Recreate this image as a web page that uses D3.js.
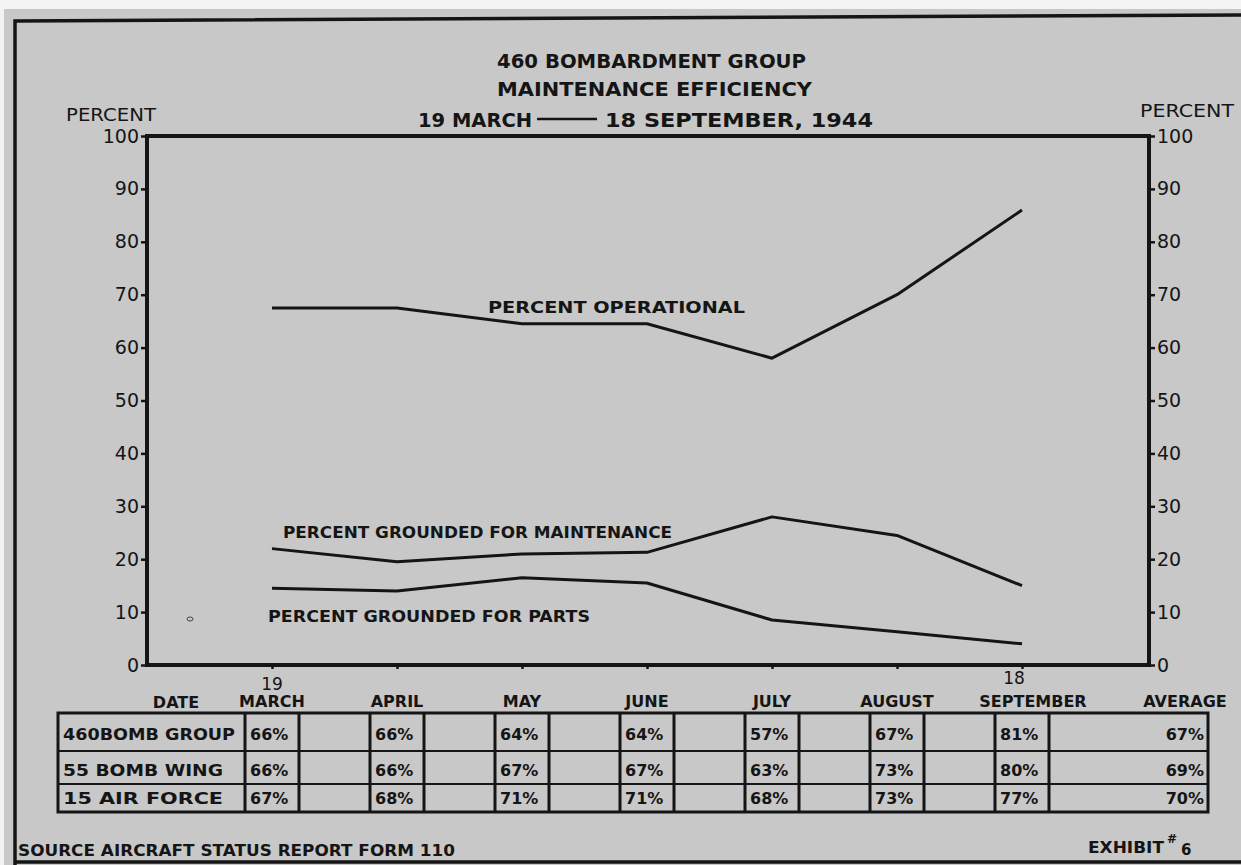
<!DOCTYPE html>
<html>
<head>
<meta charset="utf-8">
<script src="https://cdn.jsdelivr.net/npm/d3@7"></script>
<style>
  body { margin: 0; background: #f3f3f3; }
  text { font-family: "DejaVu Sans", sans-serif; fill: #151515; }
</style>
</head>
<body>
<script>
// values
const months = ["MARCH", "APRIL", "MAY", "JUNE", "JULY", "AUGUST", "SEPTEMBER"];
const operational = [67.5, 67.5, 64.5, 64.5, 58, 70, 86];
const groundedMaint = [22, 19.5, 21, 21.3, 28, 24.5, 15];
const groundedParts = [14.5, 14, 16.5, 15.5, 8.5, 6.3, 4];
const yTicks = [0, 10, 20, 30, 40, 50, 60, 70, 80, 90, 100];

const rowLabels = ["460BOMB GROUP", "55 BOMB WING", "15 AIR FORCE"];
const bombGroup460 = [66, 66, 64, 64, 57, 67, 81];
const bombWing55 = [66, 66, 67, 67, 63, 73, 80];
const airForce15 = [67, 68, 71, 71, 68, 73, 77];
const averages = [67, 69, 70];

const ink = "#151515";

const svg = d3.select("body")
  .append("svg")
  .attr("width", 1241)
  .attr("height", 865);

// photo paper
svg.append("rect")
  .attr("x", 4).attr("y", 9)
  .attr("width", 1237).attr("height", 856)
  .attr("fill", "#c8c8c8");

// outer frame
svg.append("path")
  .attr("d", "M15,865 L15,21 L1241,15")
  .attr("fill", "none").attr("stroke", ink).attr("stroke-width", 3.5);
svg.append("line")
  .attr("x1", 15).attr("x2", 1241).attr("y1", 862).attr("y2", 862)
  .attr("stroke", ink).attr("stroke-width", 3.5);

const plotL = 147, plotR = 1149, plotT = 136, plotB = 665;

const x = d3.scalePoint().domain(months).range([272, 1022]);
const y = d3.scaleLinear().domain([0, 100]).range([plotB, plotT]);

// titles
function label(txt, x0, x1, yb, size, weight) {
  return svg.append("text")
    .attr("x", x0).attr("y", yb)
    .attr("font-size", size)
    .attr("font-weight", weight || "bold")
    .attr("textLength", x1 - x0)
    .attr("lengthAdjust", "spacingAndGlyphs")
    .text(txt);
}

label("460 BOMBARDMENT GROUP", 497, 806, 68, 20);
label("MAINTENANCE EFFICIENCY", 497, 812, 96, 20);
label("19 MARCH", 418, 532, 127, 20);
svg.append("line")
  .attr("x1", 537).attr("x2", 597).attr("y1", 119).attr("y2", 119)
  .attr("stroke", ink).attr("stroke-width", 2.5);
label("18 SEPTEMBER, 1944", 605, 873, 127, 20);

label("PERCENT", 66, 156, 121, 18, "normal");
label("PERCENT", 1140, 1234, 117, 18, "normal");

// plot box
svg.append("rect")
  .attr("x", plotL).attr("y", plotT)
  .attr("width", plotR - plotL).attr("height", plotB - plotT)
  .attr("fill", "none").attr("stroke", ink).attr("stroke-width", 4);

const yLeft = svg.append("g")
  .attr("transform", "translate(" + plotL + ",0)")
  .call(d3.axisLeft(y).tickValues(yTicks).tickSize(6).tickPadding(2));
const yRight = svg.append("g")
  .attr("transform", "translate(" + plotR + ",0)")
  .call(d3.axisRight(y).tickValues(yTicks).tickSize(6).tickPadding(2));
const xAxis = svg.append("g")
  .attr("transform", "translate(0," + plotB + ")")
  .call(d3.axisBottom(x).tickSize(4).tickFormat(""));

[yLeft, yRight, xAxis].forEach(function (a) {
  a.select(".domain").remove();
  a.selectAll("line").attr("stroke", ink).attr("stroke-width", 2.5);
  a.selectAll("text")
    .attr("font-size", 19)
    .attr("font-family", "DejaVu Sans")
    .attr("fill", ink);
});

// series
const line = d3.line()
  .x(function (d, i) { return x(months[i]); })
  .y(function (d) { return y(d); });

[operational, groundedMaint, groundedParts].forEach(function (s) {
  svg.append("path")
    .datum(s)
    .attr("d", line)
    .attr("fill", "none")
    .attr("stroke", ink)
    .attr("stroke-width", 3)
    .attr("stroke-linejoin", "round");
});

label("PERCENT OPERATIONAL", 488, 745, 313, 16);
label("PERCENT GROUNDED FOR MAINTENANCE", 283, 672, 538, 16);
label("PERCENT GROUNDED FOR PARTS", 268, 590, 622, 16);

// little mark left on the sheet
svg.append("ellipse")
  .attr("cx", 190).attr("cy", 619).attr("rx", 3).attr("ry", 2)
  .attr("fill", "none").attr("stroke", "#444").attr("stroke-width", 1);

// table
const tLeft = 58, tRight = 1208, cellW = 54;
const rowLines = [713, 751, 784, 812];
const tableRows = [bombGroup460, bombWing55, airForce15];

svg.append("text").attr("x", 176).attr("y", 708)
  .attr("text-anchor", "middle").attr("font-size", 16).attr("font-weight", "bold")
  .text("DATE");
svg.append("text").attr("x", 1185).attr("y", 707)
  .attr("text-anchor", "middle").attr("font-size", 16).attr("font-weight", "bold")
  .text("AVERAGE");

svg.selectAll(".month")
  .data(months)
  .enter().append("text")
  .attr("class", "month")
  .attr("x", function (d) { return x(d) + (d === "SEPTEMBER" ? 11 : 0); })
  .attr("y", 707)
  .attr("text-anchor", "middle")
  .attr("font-size", 16)
  .attr("font-weight", "bold")
  .text(function (d) { return d; });

svg.append("text").attr("x", x("MARCH")).attr("y", 690)
  .attr("text-anchor", "middle").attr("font-size", 17).text("19");
svg.append("text").attr("x", x("SEPTEMBER") - 8).attr("y", 684)
  .attr("text-anchor", "middle").attr("font-size", 17).text("18");

const table = svg.append("g")
  .attr("stroke", ink).attr("stroke-width", 3).attr("fill", "none");

table.append("rect")
  .attr("x", tLeft).attr("y", rowLines[0])
  .attr("width", tRight - tLeft).attr("height", rowLines[3] - rowLines[0]);

rowLines.slice(1, 3).forEach(function (ry) {
  table.append("line")
    .attr("x1", tLeft).attr("x2", tRight).attr("y1", ry).attr("y2", ry)
    .attr("stroke-width", 2);
});

months.forEach(function (m) {
  [x(m) - cellW / 2, x(m) + cellW / 2].forEach(function (vx) {
    table.append("line")
      .attr("x1", vx).attr("x2", vx)
      .attr("y1", rowLines[0]).attr("y2", rowLines[3]);
  });
});

rowLabels.forEach(function (r, i) {
  const yb = rowLines[i + 1] - (i === 0 ? 11 : 8);
  svg.append("text")
    .attr("x", 63).attr("y", yb)
    .attr("font-size", 16).attr("font-weight", "bold")
    .attr("textLength", i === 0 ? 172 : 160)
    .attr("lengthAdjust", "spacingAndGlyphs")
    .text(r);

  svg.selectAll(".cell" + i)
    .data(tableRows[i])
    .enter().append("text")
    .attr("x", function (d, j) { return x(months[j]) - cellW / 2 + 5; })
    .attr("y", yb)
    .attr("font-size", 16)
    .attr("font-weight", "bold")
    .text(function (d) { return d + "%"; });

  svg.append("text")
    .attr("x", 1204).attr("y", yb)
    .attr("text-anchor", "end")
    .attr("font-size", 16).attr("font-weight", "bold")
    .text(averages[i] + "%");
});

// footer
label("SOURCE  AIRCRAFT STATUS REPORT  FORM 110", 18, 455, 856, 15);
label("EXHIBIT", 1088, 1164, 853, 15);
svg.append("text").attr("x", 1167).attr("y", 843)
  .attr("font-size", 12).attr("font-weight", "bold").text("#");
svg.append("text").attr("x", 1181).attr("y", 855)
  .attr("font-size", 15).attr("font-weight", "bold").text("6");
</script>
</body>
</html>
